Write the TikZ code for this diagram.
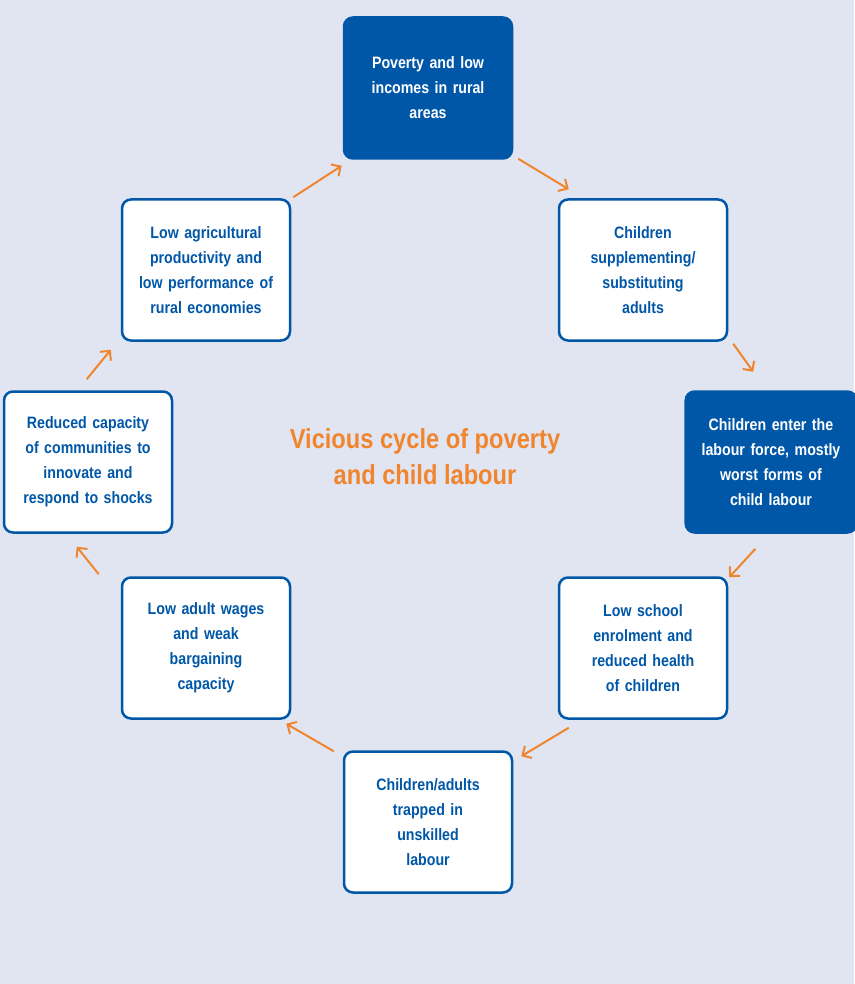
\documentclass[tikz,border=0pt]{standalone}
\usepackage{fontspec}
\setmainfont[FakeStretch=0.86]{Liberation Sans}
\usetikzlibrary{arrows.meta}
\definecolor{bgBlue}{HTML}{E1E5F2}
\definecolor{boxBlue}{HTML}{0057A8}
\definecolor{arrOrange}{HTML}{F0852D}
\tikzset{
  cBox/.style={rectangle, rounded corners=9pt, minimum width=168pt, minimum height=141pt, text width=160pt, align=center, draw=boxBlue, line width=2.5pt, fill=white, text=boxBlue, font=\bfseries\fontsize{16.5}{25}\selectfont},
  cBoxDark/.style={cBox, fill=boxBlue, text=white},
  cArrow/.style={draw=arrOrange, line width=2pt, -{Straight Barb[length=7pt,width=14pt]}}
}
\begin{document}
\begin{tikzpicture}[x=1pt,y=-1pt]
    \path[fill=bgBlue] (0,0) rectangle (854,984);
    \useasboundingbox (0,0) rectangle (854,984);
    \node (poverty) [cBoxDark] at (428,88) {Poverty and low\\incomes in rural\\areas};
    \node (supplement) [cBox] at (643,270) {Children\\supplementing/\\substituting\\adults};
    \node (labourforce) [cBoxDark, text width=164pt, minimum width=170pt] at (771,462) {Children enter the\\labour force, mostly\\worst forms of\\child labour};
    \node (school) [cBox] at (643,648) {Low school\\enrolment and\\reduced health\\of children};
    \node (trapped) [cBox] at (428,822) {Children/adults\\trapped in\\unskilled\\labour};
    \node (wages) [cBox] at (206,648) {Low adult wages\\and weak\\bargaining\\capacity};
    \node (capacity) [cBox] at (88,462) {Reduced capacity\\of communities to\\innovate and\\respond to shocks};
    \node (agri) [cBox] at (206,270) {Low agricultural\\productivity and\\low performance of\\rural economies};
    \node (title) [text=arrOrange, align=center, font=\bfseries\fontsize{27.5}{36}\selectfont] at (425,457) {Vicious cycle of poverty\\and child labour};

    \draw [cArrow] ([shift={(5,-1)}]poverty.south east) -- ([shift={(11,-9)}]supplement.north west);
    \draw [cArrow] ([shift={(5,2)}]supplement.south east) -- ([shift={(25,30)}]supplement.south east);
    \draw [cArrow] ([shift={(71,15)}]labourforce.south west) -- ([shift={(1,1)}]school.north east);
    \draw [cArrow] ([shift={(11,8)}]school.south west) -- ([shift={(8,6)}]trapped.north east);
    \draw [cArrow] ([shift={(-9,1)}]trapped.north west) -- ([shift={(-5,4)}]wages.south east);
    \draw [cArrow] ([shift={(-22,-2)}]wages.north west) -- ([shift={(74,13)}]capacity.south west);
    \draw [cArrow] ([shift={(84,-11)}]capacity.north west) -- ([shift={(-10,8)}]agri.south west);
    \draw [cArrow] ([shift={(2,-1)}]agri.north east) -- ([shift={(-1,6)}]poverty.south west);
\end{tikzpicture}
\end{document}
